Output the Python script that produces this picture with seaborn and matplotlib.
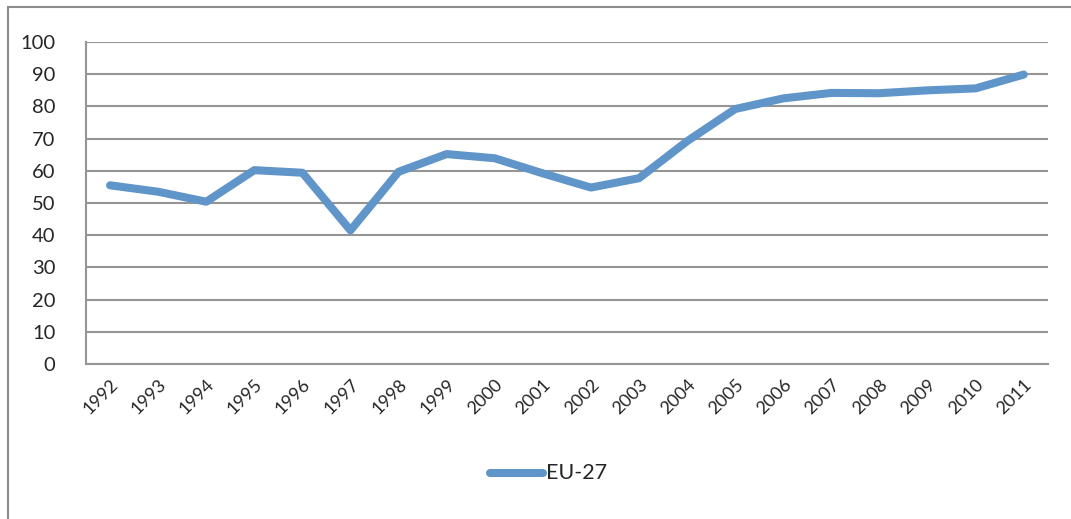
import pandas as pd
import matplotlib.pyplot as plt
import seaborn as sns
from matplotlib.patches import Rectangle

# Data
years = [str(y) for y in range(1992, 2012)]
eu27 = [55.5, 53.5, 50.4, 60.2, 59.4, 41.5, 59.7, 65.2, 63.9, 59.2,
        54.8, 57.7, 69.2, 79.2, 82.5, 84.2, 84.1, 85.0, 85.6, 89.9]
yticks = list(range(0, 101, 10))

df = pd.DataFrame({"Year": years, "Value": eu27, "Series": "EU-27"})

sns.set_style("white")
plt.rcParams["font.family"] = ["Lato", "DejaVu Sans"]

fig = plt.figure(figsize=(10.71, 5.19), dpi=100)
ax = fig.add_axes([0.0803, 0.2987, 0.898, 0.6203])

# outer chart frame (cut off at right and bottom)
fig.patches.append(Rectangle((8 / 1071, -0.1), 1.2, 1 - 7 / 519 + 0.1,
                             transform=fig.transFigure, fill=False,
                             edgecolor="#8c8c8c", linewidth=1.5))

sns.lineplot(data=df, x="Year", y="Value", hue="Series", palette=["#5f95c9"],
             linewidth=5.8, ax=ax, sort=False, legend=False,
             solid_capstyle="round", solid_joinstyle="round")

ax.set_xlim(-0.5, len(years) - 0.5)
ax.set_ylim(0, 100)
ax.set_yticks(yticks)
ax.yaxis.grid(True, color="#959595", linewidth=1.5)
ax.set_axisbelow(True)
ax.set_xlabel("")
ax.set_ylabel("")
for side in ["top", "right"]:
    ax.spines[side].set_visible(False)
for side in ["left", "bottom"]:
    ax.spines[side].set_color("#959595")
    ax.spines[side].set_linewidth(1.5)
ax.tick_params(axis="y", labelsize=14.5, length=0, pad=22)
ax.tick_params(axis="x", labelsize=13, length=0, pad=9)
plt.setp(ax.get_xticklabels(), rotation=45, ha="right", rotation_mode="anchor")

# legend
fig.lines.append(plt.Line2D([490 / 1071, 543 / 1071], [1 - 473 / 519] * 2,
                            transform=fig.transFigure, color="#5f95c9",
                            linewidth=5.8, solid_capstyle="round"))
fig.text(546 / 1071, 1 - 473 / 519, "EU-27", fontsize=15.5, va="center", ha="left")

fig.savefig("out.png", dpi=100)
